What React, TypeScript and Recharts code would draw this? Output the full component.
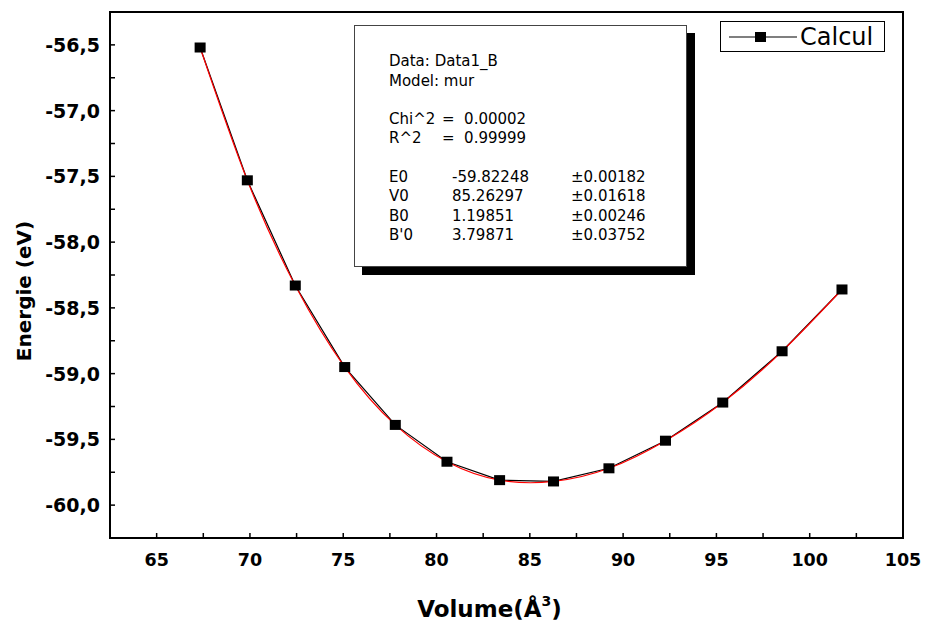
import { LineChart, Line, XAxis, YAxis, ReferenceArea, Legend } from 'recharts'

const volumes = [67.33, 69.86, 72.43, 75.08, 77.79, 80.56, 83.38, 86.27, 89.24, 92.27, 95.34, 98.52, 101.73]
const energies = [-56.52, -57.53, -58.33, -58.95, -59.39, -59.67, -59.81, -59.82, -59.72, -59.51, -59.22, -58.83, -58.36]

const xTicks = [65, 67.5, 70, 72.5, 75, 77.5, 80, 82.5, 85, 87.5, 90, 92.5, 95, 97.5, 100, 102.5, 105]
const yTicks = [-60, -59.75, -59.5, -59.25, -59, -58.75, -58.5, -58.25, -58, -57.75, -57.5, -57.25, -57, -56.75, -56.5]

const statLabels = ['E0', 'V0', 'B0', "B'0"]
const statValues = ['-59.82248', '85.26297', '1.19851', '3.79871']
const statErrors = ['\u00b10.00182', '\u00b10.01618', '\u00b10.00246', '\u00b10.03752']

const data = volumes.map((v, i) => ({ v, e: energies[i] }))

const font = '"DejaVu Sans", sans-serif'

function XTick({ x, y, payload }: any) {
    const v = payload.value
    return (
        <g>
            <line x1={x} x2={x} y1={y} y2={y - 5} stroke="#000" strokeWidth={1.5} />
            {v % 5 === 0 && (
                <text x={x} y={y + 28} textAnchor="middle" fontFamily={font} fontWeight="bold" fontSize={17.5} fill="#000">
                    {v}
                </text>
            )}
        </g>
    )
}

function YTick({ x, y, payload }: any) {
    const v = payload.value
    const major = Math.abs(v * 2 - Math.round(v * 2)) < 1e-6
    return (
        <g>
            <line x1={x} x2={x + 5} y1={y} y2={y} stroke="#000" strokeWidth={1.5} />
            {major && (
                <text x={x - 10} y={y + 7} textAnchor="end" fontFamily={font} fontWeight="bold" fontSize={19} fill="#000">
                    {v.toFixed(1).replace('.', ',')}
                </text>
            )}
        </g>
    )
}

function XTitle({ viewBox }: any) {
    const cx = viewBox.x + viewBox.width / 2 - 17
    return (
        <text x={cx} y={viewBox.y + 79} textAnchor="middle" fontFamily={font} fontWeight="bold" fontSize={23} fill="#000">
            Volume(Å<tspan fontSize={14} dy={-11}>3</tspan><tspan dy={11}>)</tspan>
        </text>
    )
}

function YTitle({ viewBox }: any) {
    const cy = viewBox.y + viewBox.height / 2 + 16
    return (
        <text x={24} y={cy} transform={`rotate(-90 24 ${cy})`} textAnchor="middle" dominantBaseline="central"
            fontFamily={font} fontWeight="bold" fontSize={20} fill="#000">
            Energie (eV)
        </text>
    )
}

function SquareDot({ cx, cy }: any) {
    return <rect x={cx - 5.5} y={cy - 5} width={11} height={10} fill="#000" />
}

function LegendBox() {
    return (
        <div style={{ width: 165, height: 31, border: '1px solid #000', boxSizing: 'border-box', background: '#fff' }}>
            <svg width={163} height={29}>
                <line x1={8} x2={76} y1={15} y2={15} stroke="#000" strokeWidth={1.2} />
                <rect x={34} y={10} width={11} height={10} fill="#000" />
                <text x={79} y={23} fontFamily={font} fontSize={24} fill="#000">Calcul</text>
            </svg>
        </div>
    )
}

export default function App() {
    return (
        <div style={{ position: 'absolute', left: 0, top: 0, width: 925, height: 624, background: '#fff' }}>
            <LineChart width={925} height={624} data={data} margin={{ top: 12, right: 22, bottom: 0, left: 0 }}>
                <XAxis
                    type="number"
                    dataKey="v"
                    domain={[62.5, 105]}
                    ticks={xTicks}
                    interval={0}
                    allowDataOverflow
                    height={86}
                    tickSize={0}
                    tickMargin={0}
                    tickLine={false}
                    tick={<XTick />}
                    axisLine={{ stroke: '#000', strokeWidth: 2 }}
                    label={<XTitle />}
                />
                <YAxis
                    type="number"
                    domain={[-60.25, -56.25]}
                    ticks={yTicks}
                    interval={0}
                    allowDataOverflow
                    width={110}
                    tickSize={0}
                    tickMargin={0}
                    tickLine={false}
                    tick={<YTick />}
                    axisLine={{ stroke: '#000', strokeWidth: 2 }}
                    label={<YTitle />}
                />
                <ReferenceArea x1={62.5} x2={105} y1={-60.25} y2={-56.25} fill="none" stroke="#000" strokeWidth={2} />
                <Line
                    dataKey="e"
                    name="Calcul"
                    type="linear"
                    stroke="#000"
                    strokeWidth={1.2}
                    dot={<SquareDot />}
                    isAnimationActive={false}
                />
                <Line
                    dataKey="e"
                    name="fit"
                    type="natural"
                    stroke="#ff0000"
                    strokeWidth={1.2}
                    dot={false}
                    legendType="none"
                    isAnimationActive={false}
                />
                <Legend
                    layout="vertical"
                    align="center"
                    verticalAlign="middle"
                    content={<LegendBox />}
                    wrapperStyle={{ left: 720, top: 21, width: 165, height: 31 }}
                />
            </LineChart>
            <div
                style={{
                    position: 'absolute',
                    left: 354,
                    top: 25,
                    width: 333,
                    height: 242,
                    boxSizing: 'border-box',
                    border: '1px solid #444',
                    background: '#fff',
                    boxShadow: '8px 8px 0 #000',
                    fontFamily: font,
                    fontSize: 15,
                    color: '#000',
                }}
            >
                <div style={{ position: 'absolute', left: 34, top: 26 }}>Data: Data1_B</div>
                <div style={{ position: 'absolute', left: 34, top: 46 }}>Model: mur</div>
                <div style={{ position: 'absolute', left: 34, top: 84 }}>Chi^2</div>
                <div style={{ position: 'absolute', left: 87, top: 84 }}>=&nbsp;&nbsp;0.00002</div>
                <div style={{ position: 'absolute', left: 34, top: 103 }}>R^2</div>
                <div style={{ position: 'absolute', left: 87, top: 103 }}>=&nbsp;&nbsp;0.99999</div>
                {statLabels.map((l, i) => (
                    <div key={l}>
                        <div style={{ position: 'absolute', left: 34, top: 142 + i * 19.3 }}>{l}</div>
                        <div style={{ position: 'absolute', left: 97, top: 142 + i * 19.3 }}>{statValues[i]}</div>
                        <div style={{ position: 'absolute', left: 216, top: 142 + i * 19.3 }}>{statErrors[i]}</div>
                    </div>
                ))}
            </div>
        </div>
    )
}
